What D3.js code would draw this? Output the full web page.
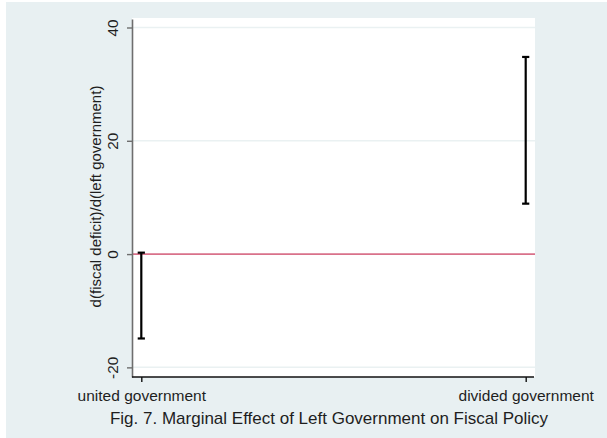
<!DOCTYPE html>
<html>
<head>
<meta charset="utf-8">
<script src="https://cdn.jsdelivr.net/npm/d3@7"></script>
<style>
  html, body { margin: 0; padding: 0; background: #ffffff; }
  svg { display: block; }
  text { font-family: "Liberation Sans", Arial, sans-serif; fill: #1e1e1e; }
</style>
</head>
<body>
<svg id="chart" width="607" height="438"></svg>
<script>
// Marginal effect estimates with confidence bounds
const categories = ["united government", "divided government"];
const lowerBound = [-14.9, 8.9];
const upperBound = [0.25, 34.8];
const yTicks = [-20, 0, 20, 40];
const yTitle = "d(fiscal deficit)/d(left government)";
const caption = "Fig. 7. Marginal Effect of Left Government on Fiscal Policy";

const svg = d3.select("#chart");
const W = 607, H = 438;

// outer graph region
svg.append("rect").attr("x", 6).attr("y", 2).attr("width", W - 6).attr("height", H - 2)
  .attr("fill", "#e8f0f2");

const plot = { left: 132, right: 535, top: 18, bottom: 377 };

// plot region
svg.append("rect").attr("x", plot.left).attr("y", plot.top)
  .attr("width", plot.right - plot.left).attr("height", plot.bottom - plot.top)
  .attr("fill", "#ffffff");

const y = d3.scaleLinear().domain([-21.7, 41.5]).range([plot.bottom, plot.top + 1]);
const x = d3.scalePoint().domain(categories).range([141.3, 525.7]);

// gridlines
svg.append("g").selectAll("line").data(yTicks.filter(d => d !== 0)).join("line")
  .attr("x1", plot.left).attr("x2", plot.right)
  .attr("y1", d => y(d)).attr("y2", d => y(d))
  .attr("stroke", "#eaf1f2").attr("stroke-width", 1.5);

// reference line at zero
svg.append("line")
  .attr("x1", plot.left).attr("x2", plot.right)
  .attr("y1", y(0)).attr("y2", y(0))
  .attr("stroke", "#d9718a").attr("stroke-width", 1.8);

// y axis (plain hyphen for negative labels)
const yAxis = svg.append("g").attr("transform", `translate(${plot.left},0)`)
  .call(d3.axisLeft(y).tickValues(yTicks).tickFormat(d => String(d))
    .tickSize(5).tickPadding(9).tickSizeOuter(0));
yAxis.select(".domain").attr("stroke", "#6e6e6e").attr("stroke-width", 1.6);
yAxis.selectAll(".tick line").attr("stroke", "#6e6e6e").attr("stroke-width", 1.4);
yAxis.selectAll(".tick text")
  .attr("font-size", 15.3)
  .attr("text-anchor", "middle")
  .attr("x", null).attr("dy", null)
  .attr("transform", "translate(-14,0) rotate(-90)")
  .attr("y", 0);

// x axis
const xAxis = svg.append("g").attr("transform", `translate(0,${plot.bottom})`)
  .call(d3.axisBottom(x).tickSize(5).tickPadding(8).tickSizeOuter(0));
xAxis.select(".domain").remove();
xAxis.append("line").attr("x1", plot.left).attr("x2", plot.right - 1)
  .attr("y1", 0).attr("y2", 0).attr("stroke", "#111").attr("stroke-width", 1.6);
xAxis.selectAll(".tick line").attr("stroke", "#111").attr("stroke-width", 1.4);
xAxis.selectAll(".tick text").attr("font-size", 15.5).attr("dy", "0.71em");

// confidence intervals
const ci = svg.append("g");
categories.forEach((c, i) => {
  const cx = x(c), cap = 3.6;
  const g = ci.append("g").attr("stroke", "#000").attr("stroke-width", 2.2);
  g.append("line").attr("x1", cx).attr("x2", cx).attr("y1", y(upperBound[i])).attr("y2", y(lowerBound[i]));
  g.append("line").attr("x1", cx - cap).attr("x2", cx + cap).attr("y1", y(upperBound[i])).attr("y2", y(upperBound[i]));
  g.append("line").attr("x1", cx - cap).attr("x2", cx + cap).attr("y1", y(lowerBound[i])).attr("y2", y(lowerBound[i]));
});

// y axis title
svg.append("text")
  .attr("transform", `translate(101,196.5) rotate(-90)`)
  .attr("text-anchor", "middle")
  .attr("font-size", 15)
  .text(yTitle);

// caption
svg.append("text")
  .attr("x", 329).attr("y", 423.5)
  .attr("text-anchor", "middle")
  .attr("font-size", 17)
  .text(caption);
</script>
</body>
</html>
